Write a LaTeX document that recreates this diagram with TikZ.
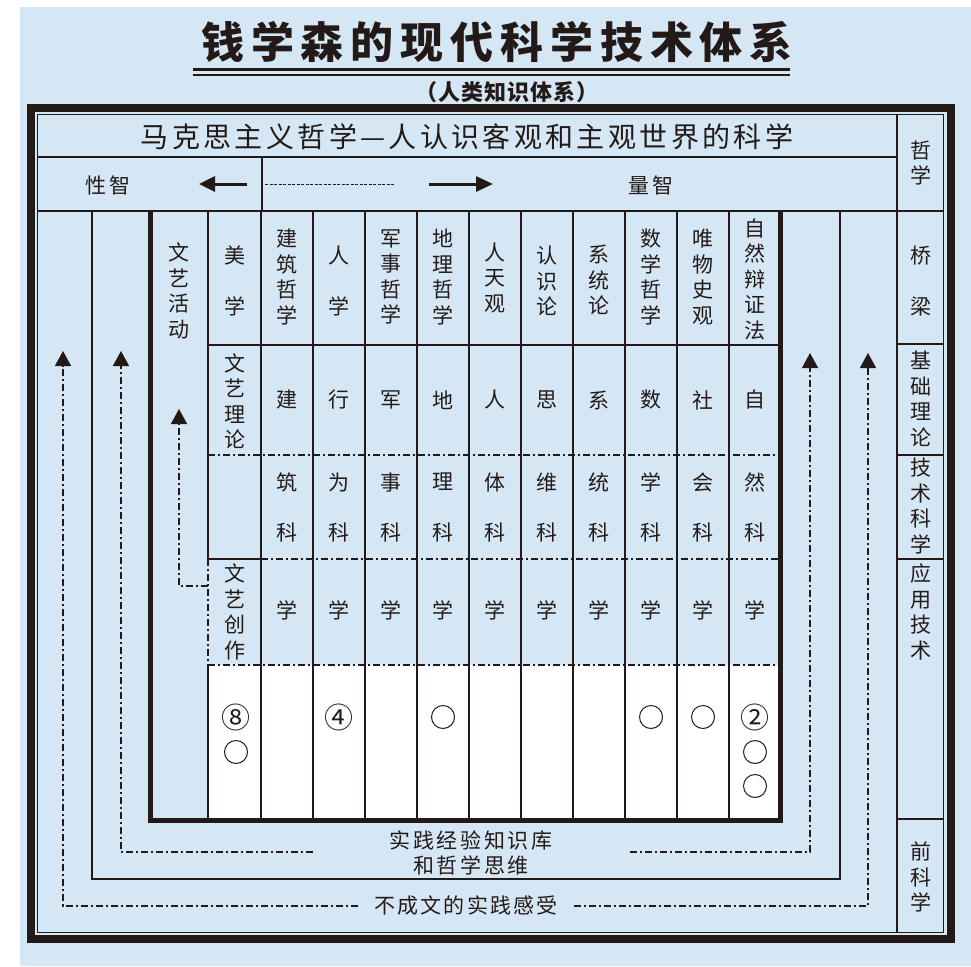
\documentclass[tikz,border=0pt]{standalone}
\usepackage{fontspec}
\newfontfamily\cjk{Noto Sans CJK SC}
\usetikzlibrary{arrows.meta}
\definecolor{bg}{RGB}{213,231,244}
\definecolor{ink}{RGB}{35,26,24}
\begin{document}
\begin{tikzpicture}[x=1pt,y=-1pt,
  gridln/.style={line width=1.5pt, draw=ink},
  ddln/.style={line width=1.5pt, draw=ink, dash pattern=on 7pt off 3pt on 2pt off 3pt},
  vt/.style={font=\cjk\fontsize{21}{25.5}\selectfont, align=center, inner sep=0pt, text=ink},
  lbl/.style={font=\cjk\fontsize{21}{25}\selectfont\addfontfeature{LetterSpace=12}, inner sep=0pt, text=ink},
  upar/.style={-{Triangle[width=16pt,length=15pt]}},
  hole/.style={circle, draw=ink, line width=1pt, minimum size=23pt, inner sep=0pt},
  cnum/.style={font=\cjk\fontsize{29}{29}\selectfont, inner sep=0pt, text=ink},
]
\useasboundingbox (0,0) rectangle (971,966);
\fill[white] (0,0) rectangle (971,966);
\fill[bg] (20,7) rectangle (971,966);

% title
\node[font=\cjk\bfseries\fontsize{43}{43}\selectfont\addfontfeature{LetterSpace=16}, text=ink, inner sep=0pt] (title) at (497,42) {钱学森的现代科学技术体系};
\draw[line width=3pt, ink] (193,69) -- (790,69);
\draw[line width=1.2pt, ink] (193,75) -- (790,75);
\node[font=\cjk\bfseries\fontsize{22}{22}\selectfont\addfontfeature{LetterSpace=4}, text=ink, inner sep=0pt] (sub) at (507,92) {（人类知识体系）};

% white area
\fill[white] (208,665) rectangle (781,820);

% frame
\draw[line width=8pt, ink] (31,108) rectangle (950.5,939);
\draw[gridln] (37.5,114.5) rectangle (943.5,932.5);

% header rows
\draw[gridln] (37.5,157) -- (897,157);
\draw[gridln] (897,114.5) -- (897,932.5);
\draw[gridln] (37.5,211) -- (943.5,211);
\draw[gridln] (262,157) -- (262,211);
\foreach \yy in {344,455,559,819} \draw[gridln] (897,\yy) -- (943.5,\yy);

\node[font=\cjk\fontsize{28}{28}\selectfont\addfontfeature{LetterSpace=12}, text=ink, inner sep=0pt] (hdr) at (467,137) {马克思主义哲学—人认识客观和主观世界的科学};
\node[lbl] (xz) at (108,185) {性智};
\node[lbl] (lz) at (651,185) {量智};
\coordinate (aL1) at (247,184);
\coordinate (aL2) at (199,184);
\coordinate (aR1) at (429,184);
\coordinate (aR2) at (493,184);
\coordinate (dS1) at (265,184);
\coordinate (dS2) at (395,184);
\draw[line width=3pt, ink, -{Triangle[width=15pt,length=16pt]}] (aL1) -- (aL2);
\draw[line width=3pt, ink, -{Triangle[width=15pt,length=17pt]}] (aR1) -- (aR2);
\draw[line width=1pt, ink, dash pattern=on 3pt off 1.5pt] (dS1) -- (dS2);

% thin U
\draw[gridln] (92,211) -- (92,879) -- (840,879) -- (840,211);

% columns
\foreach \xx in {261,313,365,417,469,521,573,625,677,729} \draw[gridln] (\xx,211) -- (\xx,820);
\draw[gridln] (208,211) -- (208,559);
\draw[ddln] (208,559) -- (208,665);
\draw[gridln] (208,665) -- (208,820);
\draw[gridln] (208,345) -- (781,345);
\draw[ddln] (208,455) -- (781,455);
\draw[gridln] (208,559) -- (261,559);
\draw[ddln] (261,559) -- (781,559);
\draw[ddln] (208,665) -- (781,665);

% inner thick box
\draw[line width=5pt, ink, line join=miter] (150.5,211) -- (150.5,820.5) -- (780.5,820.5) -- (780.5,211);

% row 1
\node[vt] (wyhd) at (179,291) {文\\艺\\活\\动};
\node[vt] (n1) at (235,281) {美\\[26pt]学};
\node[vt] (n2) at (287,277) {建\\筑\\哲\\学};
\node[vt] (n3) at (339,281) {人\\[26pt]学};
\node[vt] (n4) at (391,277) {军\\事\\哲\\学};
\node[vt] (n5) at (443,277) {地\\理\\哲\\学};
\node[vt] (n6) at (495,278) {人\\天\\观};
\node[vt] (n7) at (547,281) {认\\识\\论};
\node[vt] (n8) at (599,280) {系\\统\\论};
\node[vt] (n9) at (651,277) {数\\学\\哲\\学};
\node[vt] (n10) at (703,277) {唯\\物\\史\\观};
\node[vt] (n11) at (755,279) {自\\然\\辩\\证\\法};

% row 2
\node[vt] (m1) at (235,401) {文\\艺\\理\\论};
\node[vt] (m2) at (287,400) {建};
\node[vt] (m3) at (339,400) {行};
\node[vt] (m4) at (391,400) {军};
\node[vt] (m5) at (443,400) {地};
\node[vt] (m6) at (495,400) {人};
\node[vt] (m7) at (547,400) {思};
\node[vt] (m8) at (599,400) {系};
\node[vt] (m9) at (651,400) {数};
\node[vt] (m10) at (703,400) {社};
\node[vt] (m11) at (755,400) {自};

% row 3
\node[vt] (t2) at (287,507.5) {筑\\[25pt]科};
\node[vt] (t3) at (339,507.5) {为\\[25pt]科};
\node[vt] (t4) at (391,507.5) {事\\[25pt]科};
\node[vt] (t5) at (443,507.5) {理\\[25pt]科};
\node[vt] (t6) at (495,507.5) {体\\[25pt]科};
\node[vt] (t7) at (547,507.5) {维\\[25pt]科};
\node[vt] (t8) at (599,507.5) {统\\[25pt]科};
\node[vt] (t9) at (651,507.5) {学\\[25pt]科};
\node[vt] (t10) at (703,507.5) {会\\[25pt]科};
\node[vt] (t11) at (755,507.5) {然\\[25pt]科};

% row 4
\node[vt] (u1) at (235,612) {文\\艺\\创\\作};
\node[vt] (u2) at (287,610) {学};
\node[vt] (u3) at (339,610) {学};
\node[vt] (u4) at (391,610) {学};
\node[vt] (u5) at (443,610) {学};
\node[vt] (u6) at (495,610) {学};
\node[vt] (u7) at (547,610) {学};
\node[vt] (u8) at (599,610) {学};
\node[vt] (u9) at (651,610) {学};
\node[vt] (u10) at (703,610) {学};
\node[vt] (u11) at (755,610) {学};

% row 5 circles
\node[cnum] (c1) at (236,717) {⑧};
\node[hole] (c1b) at (236,752) {};
\node[cnum] (c3) at (339,717) {④};
\node[hole] (c5) at (443,717) {};
\node[hole] (c9) at (651,717) {};
\node[hole] (c10) at (703,717) {};
\node[cnum] (c11) at (755,717) {②};
\node[hole] (c11b) at (755,752) {};
\node[hole] (c11c) at (755,786) {};

% right column
\node[vt] (r1) at (921,163) {哲\\学};
\node[vt] (r2) at (921,281) {桥\\[26pt]梁};
\node[vt] (r3) at (921,399) {基\\础\\理\\论};
\node[vt] (r4) at (921,506) {技\\术\\科\\学};
\node[vt] (r5) at (921,612) {应\\用\\技\\术};
\node[vt] (r6) at (921,877) {前\\科\\学};

% bottom labels
\node[lbl] (kb1) at (471,840) {实践经验知识库};
\node[lbl] (kb2) at (471,865) {和哲学思维};
\node[lbl, font=\cjk\fontsize{21}{25}\selectfont\addfontfeature{LetterSpace=10}] (ucx) at (466,906) {不成文的实践感受};

% dash-dot arrows
\coordinate (tA) at (63,351);
\coordinate (tB) at (868,353);
\coordinate (tC) at (121,351);
\coordinate (tD) at (810,353);
\coordinate (kbL) at (313,852);
\coordinate (kbR) at (630,852);
\coordinate (wyS) at (208,586);
\coordinate (wyT) at (179,409);
\draw[ddln, upar] ([xshift=-16pt]ucx.west) -| (tA);
\draw[ddln, upar] ([xshift=16pt]ucx.east) -| (tB);
\draw[ddln, upar] (kbL) -| (tC);
\draw[ddln, upar] (kbR) -| (tD);
\draw[ddln, upar] (wyS) -| (wyT);
\end{tikzpicture}
\end{document}
